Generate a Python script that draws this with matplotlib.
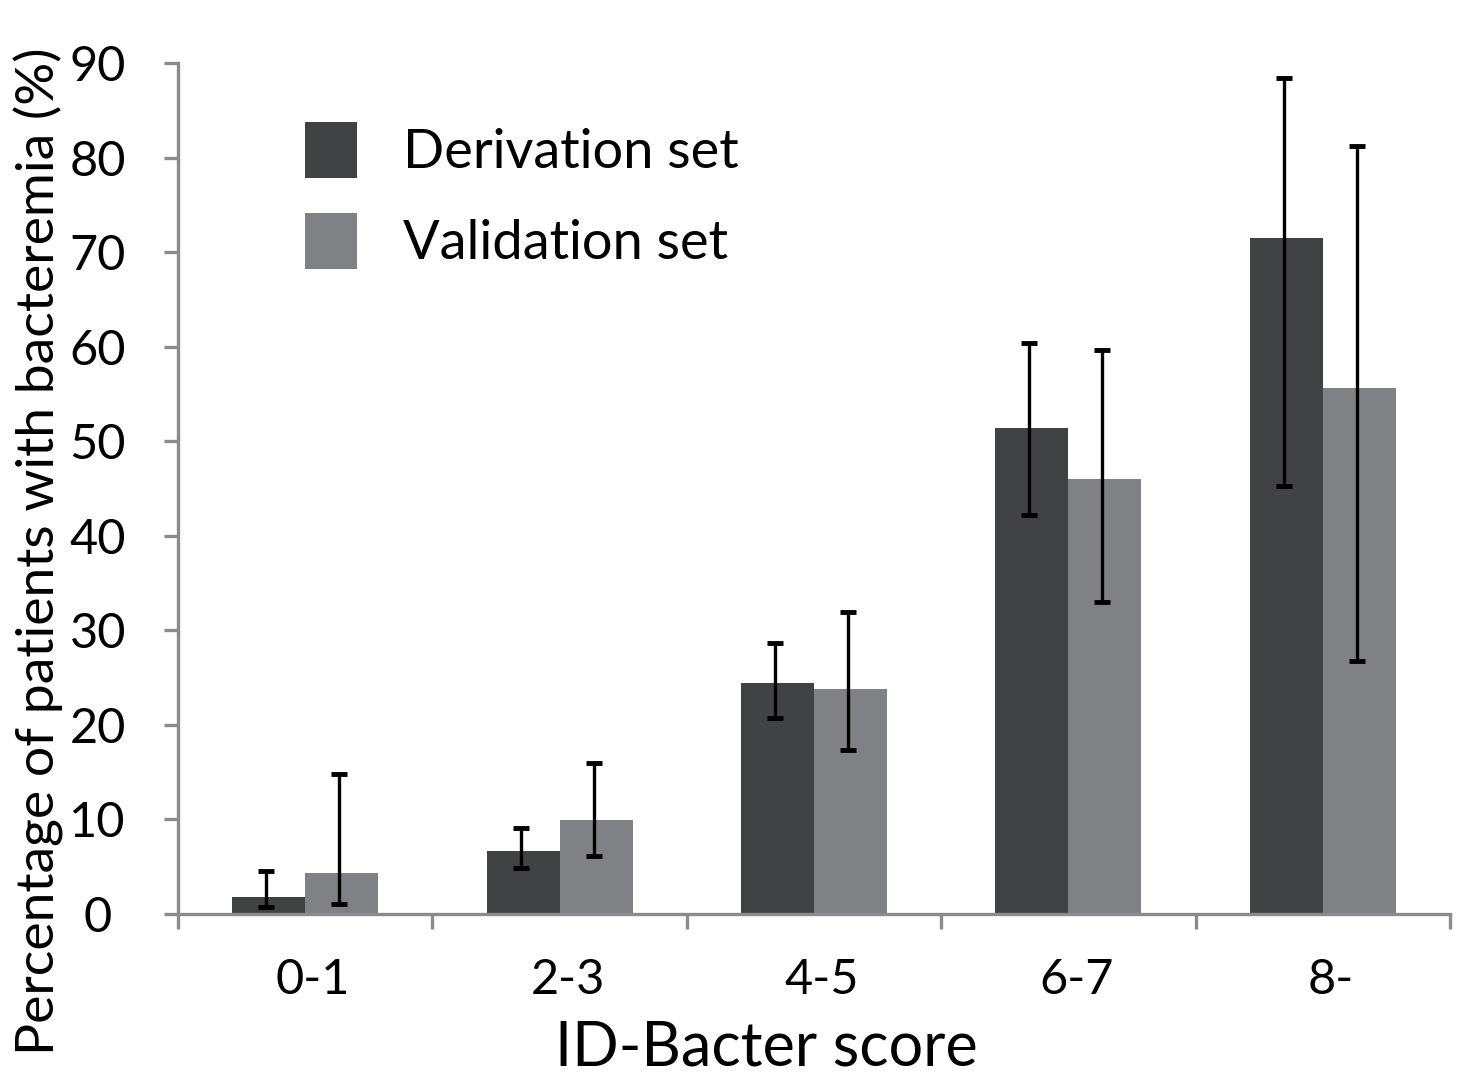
import matplotlib
matplotlib.use("Agg")
import matplotlib.pyplot as plt
import matplotlib.transforms as mtransforms
import numpy as np

categories = ["0-1", "2-3", "4-5", "6-7", "8-"]
derivation = [1.8, 6.7, 24.4, 51.4, 71.5]
deriv_low = [0.7, 4.9, 20.7, 42.2, 45.3]
deriv_high = [4.6, 9.1, 28.7, 60.4, 88.4]
validation = [4.3, 9.9, 23.8, 46.0, 55.6]
valid_low = [1.1, 6.1, 17.3, 33.0, 26.8]
valid_high = [14.8, 16.0, 31.9, 59.6, 81.2]
yticks = [0, 10, 20, 30, 40, 50, 60, 70, 80, 90]

plt.rcParams['font.family'] = ['Lato', 'DejaVu Sans']

fig = plt.figure(figsize=(14.58, 10.8), dpi=100)
ax = fig.add_axes([178/1458, 1-914/1080, (1450-178)/1458, (914-63)/1080])

x = np.arange(len(categories))
w = 0.287
dcol = "#414244"
vcol = "#808184"
ax.bar(x - w/2, derivation, w, color=dcol, label="Derivation set", zorder=2)
ax.bar(x + w/2, validation, w, color=vcol, label="Validation set", zorder=2)

d = np.array(derivation); v = np.array(validation)
derr = [d - np.array(deriv_low), np.array(deriv_high) - d]
verr = [v - np.array(valid_low), np.array(valid_high) - v]
ekw = dict(fmt="none", ecolor="black", elinewidth=2.4, capsize=6, capthick=3.5, zorder=3)
ax.errorbar(x - w/2 - 0.01, d, yerr=derr, **ekw)
ax.errorbar(x + w/2 - 0.01, v, yerr=verr, **ekw)

ax.set_xlim(-0.5, len(categories) - 0.5)
ax.set_ylim(0, 90)
ax.set_yticks(yticks)
ax.set_xticks(x)
ax.set_xticklabels(categories)
ax.set_xticks(np.arange(-0.5, len(categories)), minor=True)

scol = "#8a8b8d"
for s in ["top", "right"]:
    ax.spines[s].set_visible(False)
for s in ["left", "bottom"]:
    ax.spines[s].set_color(scol)
    ax.spines[s].set_linewidth(2.4)

ax.tick_params(axis="y", direction="out", length=10, width=2.4, color=scol,
               labelsize=35, pad=14, labelcolor="black")
ax.tick_params(axis="x", which="major", length=0, labelsize=35, pad=32)
ax.tick_params(axis="x", which="minor", direction="out", length=11, width=2.4, color=scol)

# y tick labels centered at a common x
for lab in ax.get_yticklabels():
    lab.set_horizontalalignment("center")
    lab.set_transform(lab.get_transform() + mtransforms.ScaledTranslation(-47/100, 0, fig.dpi_scale_trans))
for lab in ax.get_xticklabels():
    lab.set_transform(lab.get_transform() + mtransforms.ScaledTranslation(8/100, 0, fig.dpi_scale_trans))

ax.set_xlabel("ID-Bacter score", fontsize=44)
ax.xaxis.label.set_verticalalignment("baseline")
ax.xaxis.set_label_coords((766-178)/1272, (914-1066)/851)
ax.set_ylabel("Percentage of patients with bacteremia (%)", fontsize=38.5)
ax.yaxis.set_label_coords((64-178)/1272, (914-551)/851)

leg = ax.legend(loc="upper left", bbox_to_anchor=((305-178)/1272, (914-122)/851),
                frameon=False, fontsize=39, handlelength=0.96, handleheight=1.2,
                handletextpad=0.85, labelspacing=0.66, borderpad=0, borderaxespad=0)

fig.savefig("out.png", dpi=100)
